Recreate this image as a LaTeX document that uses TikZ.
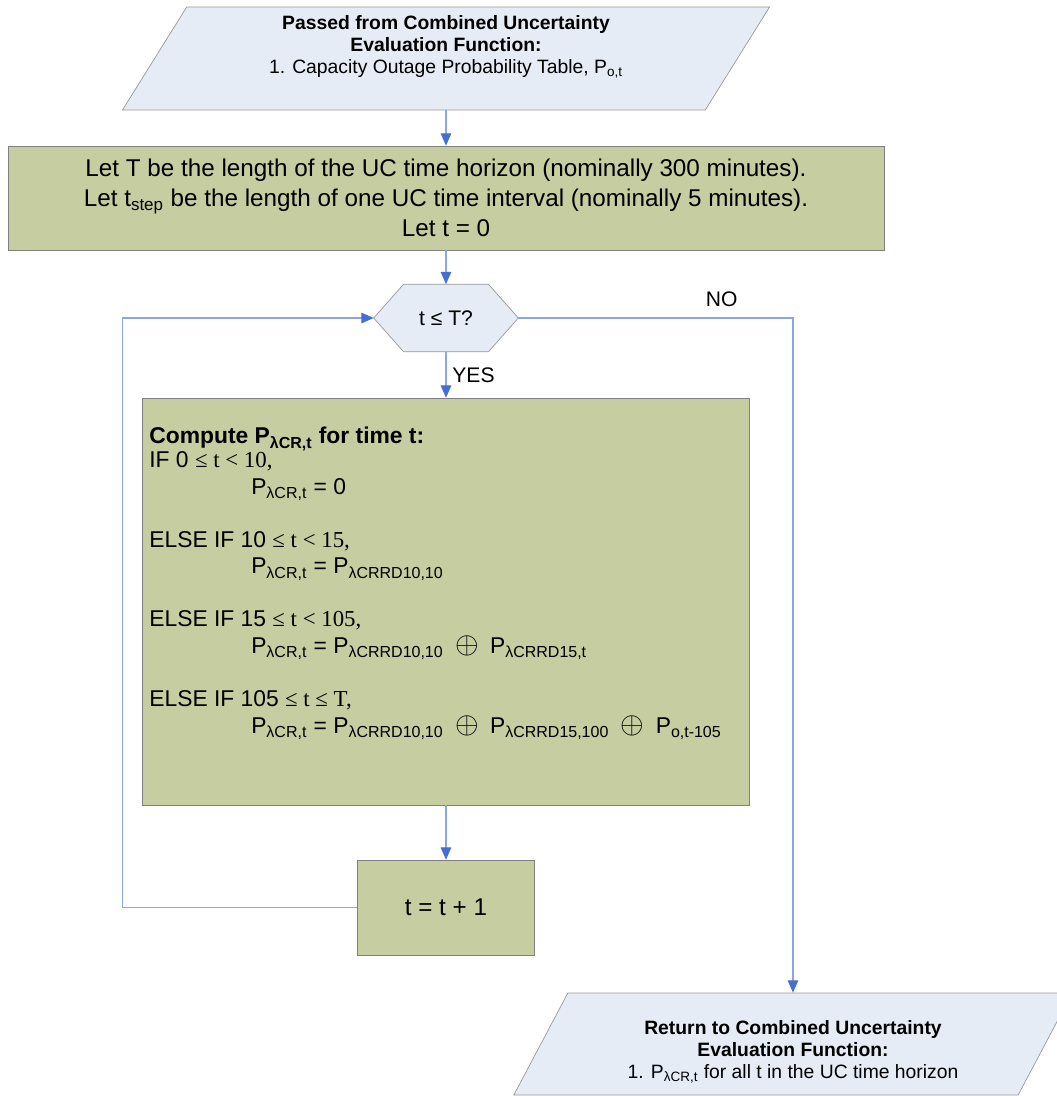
\documentclass[tikz,border=0pt]{standalone}
\usepackage{fontspec}
\setmainfont{Liberation Sans}
\newfontfamily\timesfont{Liberation Serif}
\usetikzlibrary{shapes.geometric,arrows.meta,backgrounds}

\definecolor{ioblue}{RGB}{229,236,246}
\definecolor{boxgreen}{RGB}{198,205,160}
\definecolor{edgegray}{RGB}{128,128,128}
\definecolor{flowline}{RGB}{140,165,230}
\definecolor{tipblue}{RGB}{68,110,210}

% probability with a lambda subscript
\newcommand{\Pl}[1]{P\textsubscript{λ#1}}
\newcommand{\Psb}[1]{P\textsubscript{#1}}
\newcommand{\cond}[1]{{\timesfont #1}}
\newcommand{\op}{\enspace{\fontsize{17}{17}\selectfont$\oplus$}\enspace}

\tikzset{
  iobox/.style={trapezium, trapezium left angle=63, trapezium right angle=117,
    trapezium stretches=true, draw=edgegray!80, fill=ioblue, align=center,
    inner sep=0pt, font=\fontsize{11}{12.5}\selectfont},
  greenbox/.style={rectangle, draw=edgegray, fill=boxgreen},
  flow/.style={draw=flowline, line width=0.6pt,
    -{Triangle[length=7pt,width=6pt,color=tipblue,fill=tipblue]}},
  bigtext/.style={font=\fontsize{13.8}{17}\selectfont},
}

\begin{document}
\begin{tikzpicture}[x=0.02cm, y=-0.02cm]
	\useasboundingbox (0,0) rectangle (1057,1096);
	% data in and out
	\node[iobox, minimum width=12.98cm, minimum height=2.06cm] (input) at (446,58.5)
		{\textbf{Passed from Combined Uncertainty}\\\textbf{Evaluation Function:}\\1. Capacity Outage Probability Table, \Psb{o,t}\\[3.5pt]\mbox{}};
	\node[iobox, minimum width=11.2cm, minimum height=2.04cm] (output) at (793,1044)
		{\mbox{}\\[4pt]\textbf{Return to Combined Uncertainty}\\\textbf{Evaluation Function:}\\1. \Pl{CR,t} for all t in the UC time horizon};
	% initialisation
	\node[greenbox, bigtext, align=center, minimum width=17.52cm, minimum height=2.08cm] (setup) at (446,198)
		{Let T be the length of the UC time horizon (nominally 300 minutes).\\
		 Let t\textsubscript{step} be the length of one UC time interval (nominally 5 minutes).\\
		 Let t = 0};
	% loop test
	\node[font=\fontsize{12}{14}\selectfont, minimum width=2.88cm, minimum height=1.34cm] (test) at (446,318) {t ≤ T?};
	\begin{scope}[on background layer]
		\draw[draw=edgegray!80, fill=ioblue] (test.west) -- ([xshift=0.6cm]test.north west)
			-- ([xshift=-0.6cm]test.north east) -- (test.east)
			-- ([xshift=-0.6cm]test.south east) -- ([xshift=0.6cm]test.south west) -- cycle;
	\end{scope}
	% piecewise rule
	\node[greenbox, minimum width=12.14cm, minimum height=8.14cm] (compute) at (446,601.5) {};
	\node[anchor=north west, align=left, inner sep=0pt, font=\fontsize{13}{15.1}\selectfont] (rules) at (149,427)
		{\textbf{Compute \Pl{CR,t} for time t:}\\[-1.5pt]
		 IF 0 \cond{≤ t < 10,}\\
		 \hspace*{58pt}\Pl{CR,t} = 0\\[15.1pt]
		 ELSE IF 10 \cond{≤ t < 15,}\\
		 \hspace*{58pt}\Pl{CR,t} = \Pl{CRRD10,10}\\[15.1pt]
		 ELSE IF 15 \cond{≤ t < 105,}\\
		 \hspace*{58pt}\Pl{CR,t} = \Pl{CRRD10,10}\op\Pl{CRRD15,t}\\[15.1pt]
		 ELSE IF 105 \cond{≤ t ≤ T,}\\
		 \hspace*{58pt}\Pl{CR,t} = \Pl{CRRD10,10}\op\Pl{CRRD15,100}\op\Psb{o,t-105}};
	\node[greenbox, bigtext, minimum width=3.54cm, minimum height=1.9cm] (step) at (446,907.5) {t = t + 1};
	% connectors
	\draw[flow] (setup.north |- input.south) -- (setup.north);
	\draw[flow] (setup.south) -- (test.north);
	\draw[flow] (test.south) -- node[right, font=\fontsize{12}{14}\selectfont]{YES} (compute.north);
	\draw[flow] (compute.south) -- (step.north);
	\draw[flow] (step.west) -- ++(-235,0) |- (test.west);
	\draw[flow] (test.east) -| node[pos=0.37, above=3pt, font=\fontsize{12}{14}\selectfont]{NO} (output.center |- output.north);
\end{tikzpicture}
\end{document}
